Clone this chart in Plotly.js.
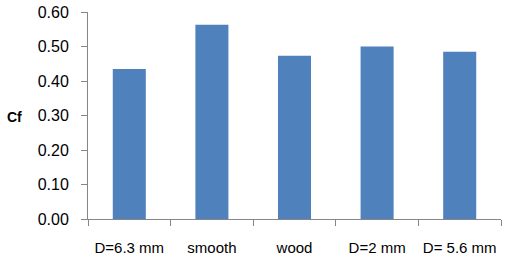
<!DOCTYPE html>
<html>
<head>
<meta charset="utf-8">
<script src="https://cdn.plot.ly/plotly-3.0.1.min.js"></script>
<style>html,body{margin:0;padding:0;background:#fff;}#chart{width:512px;height:263px;}</style>
</head>
<body>
<div id="chart"></div>
<script>
const categories = ["D=6.3 mm", "smooth", "wood", "D=2 mm", "D= 5.6 mm"];
const cfValues = [0.435, 0.563, 0.473, 0.50, 0.485];
const yTickValues = [0, 0.1, 0.2, 0.3, 0.4, 0.5, 0.6];
const yAxisLabel = "Cf";

const trace = {
  type: "bar",
  x: categories,
  y: cfValues,
  marker: {color: "#4F81BD"},
  hoverinfo: "none"
};

const layout = {
  width: 512,
  height: 263,
  margin: {l: 88, r: 11, t: 12, b: 44, pad: 0},
  paper_bgcolor: "#ffffff",
  plot_bgcolor: "#ffffff",
  bargap: 0.6,
  showlegend: false,
  font: {family: "Liberation Sans, Arial, sans-serif", color: "#000000", size: 15},
  xaxis: {
    type: "category",
    tickson: "boundaries",
    tickangle: 0,
    ticks: "outside",
    ticklen: 6,
    tickwidth: 1,
    tickcolor: "#868686",
    showline: true,
    linecolor: "#868686",
    linewidth: 1,
    showgrid: false,
    zeroline: false,
    ticklabelstandoff: 15,
    tickfont: {size: 15}
  },
  yaxis: {
    range: [0, 0.6],
    tickvals: yTickValues,
    tickformat: ".2f",
    ticks: "outside",
    ticklen: 6,
    tickwidth: 1,
    tickcolor: "#868686",
    showline: true,
    linecolor: "#868686",
    linewidth: 1,
    showgrid: false,
    zeroline: false,
    ticklabelstandoff: 9,
    tickfont: {size: 16}
  },
  annotations: [{
    text: yAxisLabel,
    xref: "paper", yref: "paper",
    x: -0.178, y: 0.493,
    xanchor: "center", yanchor: "middle",
    showarrow: false,
    font: {size: 14, family: "Liberation Sans, Arial, sans-serif", weight: "bold"}
  }]
};

Plotly.newPlot("chart", [trace], layout, {staticPlot: true, displayModeBar: false});
</script>
</body>
</html>
